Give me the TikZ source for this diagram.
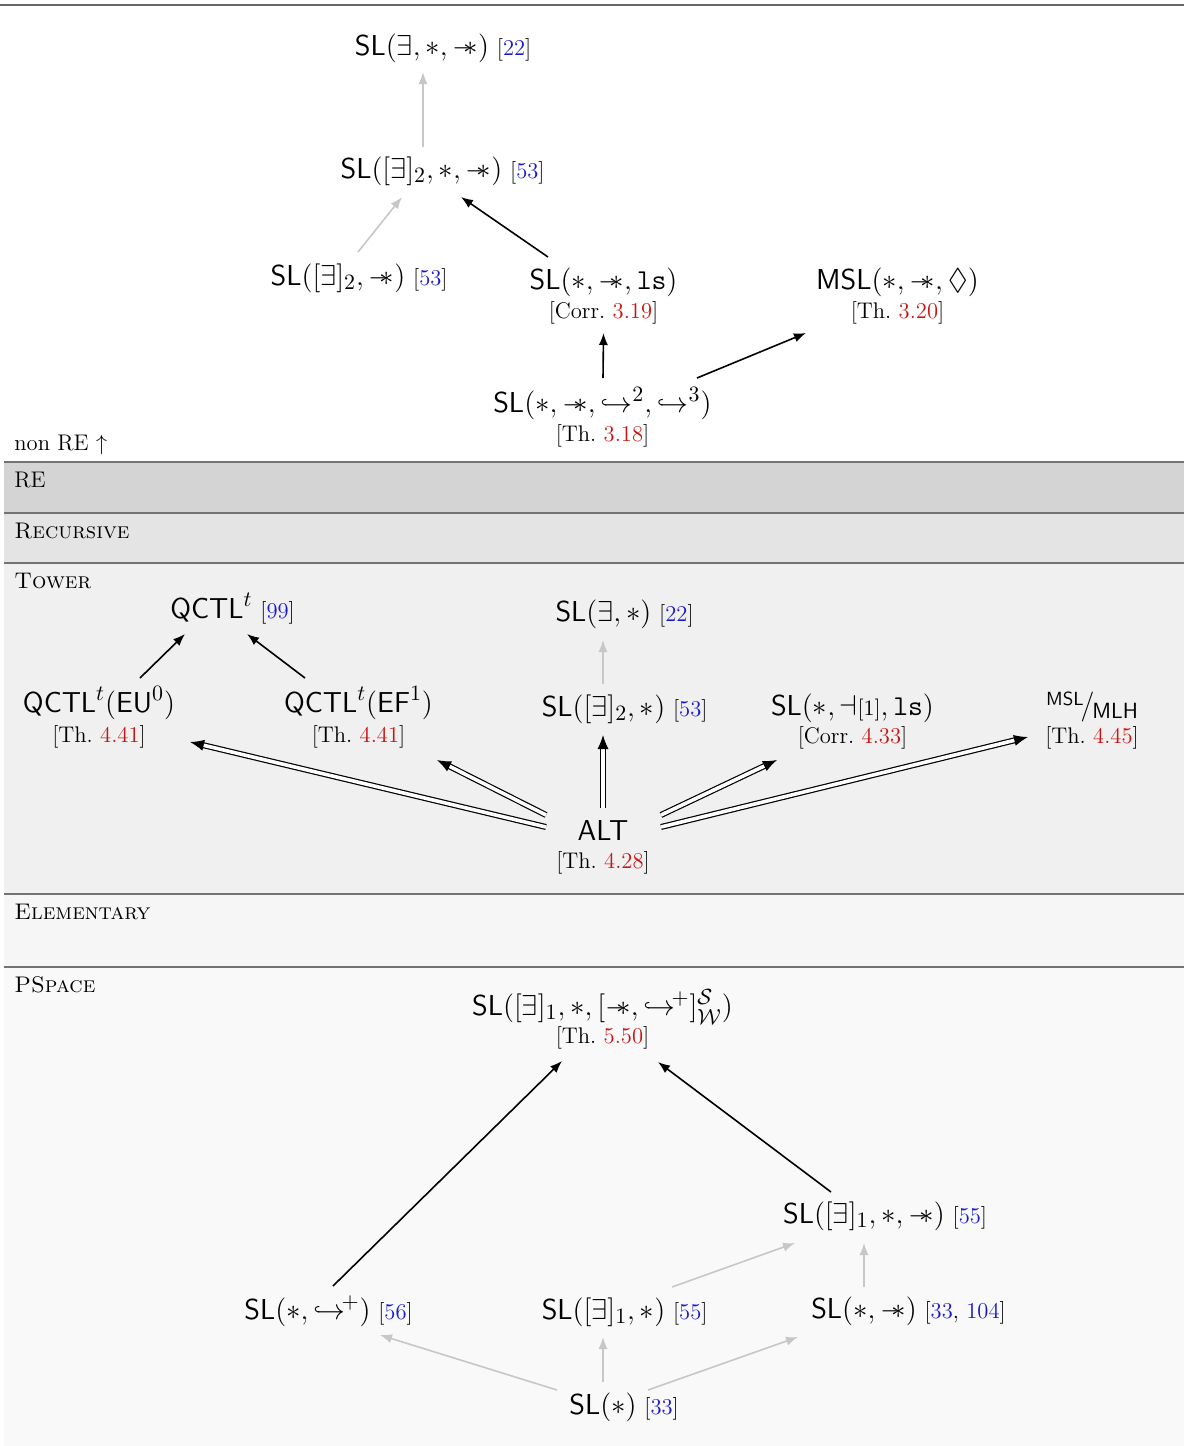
\documentclass[tikz,border=0pt,11pt]{standalone}
\usepackage{amssymb, mathtools, amsmath}
\usepackage{tikz}
\usetikzlibrary{arrows.meta}

\definecolor{citeblue}{RGB}{25,25,205}
\definecolor{refred}{RGB}{200,20,20}
\newcommand{\bibref}[1]{[{\color{citeblue}#1}]}
\newcommand{\thref}[2]{[#1~{\color{refred}#2}]}
\newcommand{\wand}{\mathrel{-\mkern-7mu\ast}}
\newcommand{\septr}{\mathrel{\dashv\mkern-5mu{\scriptstyle[1]}}}
\newcommand{\hookp}{\hookrightarrow^{\!+}}
\newcommand{\smallfont}{\fontsize{11.3}{13.5}\selectfont}

\tikzset{
  lang/.style={font=\fontsize{15}{18}\selectfont, inner sep=0pt, anchor=base},
  cit/.style={font=\smallfont, inner sep=0pt, anchor=base west},
  thm/.style={font=\smallfont, inner sep=0pt, anchor=base},
  band/.style={font=\smallfont, anchor=base west, inner sep=0pt},
  arr/.style={-{Latex[length=6pt,width=4.6pt]}, line width=0.8pt},
  garr/.style={arr, draw=black!22},
  darr/.style={-{Latex[length=7pt,width=5.6pt]}, double, double distance=1.8pt, line width=0.6pt},
}

\begin{document}
\begin{tikzpicture}[x=0.5pt,y=0.5pt,yscale=-1,xscale=1]
\useasboundingbox (0,0) rectangle (1184,1446);

%Bands
\fill [black!17] (4,462) rectangle (1184,513);
\fill [black!10.5] (4,513) rectangle (1184,563);
\fill [black!6] (4,563) rectangle (1184,894);
\fill [black!3.5] (4,894) rectangle (1184,967);
\fill [black!2.5] (4,967) rectangle (1184,1446);
\draw [black!60, line width=1pt] (0,5) -- (1184,5);
\draw [black!55, line width=0.6pt] (4,462) -- (1184,462) (4,513) -- (1184,513) (4,563) -- (1184,563) (4,894) -- (1184,894) (4,967) -- (1184,967);

% Band labels
\draw (14,450) node [band] (nonRE) {non RE $\uparrow$};
\draw (14,487) node [band] (bandRE) {RE};
\draw (14,538) node [band] (bandRec) {\textsc{Recursive}};
\draw (14,588) node [band] (bandTower) {\textsc{Tower}};
\draw (14,919) node [band] (bandElem) {\textsc{Elementary}};
\draw (14,992) node [band] (bandPS) {\textsc{PSpace}};

% Text Node: non RE part
\draw (422,55) node [lang] (slTop) {$\mathsf{SL}(\exists, \ast, \wand)$};
\draw ([shift={(7,0)}]slTop.base east) node [cit] (slTopCite) {\bibref{22}};
\draw (421.5,178) node [lang] (slTwoWand) {$\mathsf{SL}([\exists]_2, \ast, \wand)$};
\draw ([shift={(7,0)}]slTwoWand.base east) node [cit] (slTwoWandCite) {\bibref{53}};
\draw (338,285) node [lang] (slTwoOnlyWand) {$\mathsf{SL}([\exists]_2, \wand)$};
\draw ([shift={(7,0)}]slTwoOnlyWand.base east) node [cit] (slTwoOnlyWandCite) {\bibref{53}};
\draw (603.5,289) node [lang] (slLs) {$\mathsf{SL}(\ast, \wand, \mathtt{ls})$};
\draw ([shift={(0,29)}]slLs.base) node [thm] (slLsRef) {\thref{Corr.}{3.19}};
\draw (897.5,289) node [lang] (mslDia) {$\mathsf{MSL}(\ast, \wand, \Diamond)$};
\draw ([shift={(0,29)}]mslDia.base) node [thm] (mslDiaRef) {\thref{Th.}{3.20}};
\draw (602.5,412) node [lang] (slHook) {$\mathsf{SL}(\ast, \wand, \hookrightarrow^{2}, \hookrightarrow^{3})$};
\draw ([shift={(0,29)}]slHook.base) node [thm] (slHookRef) {\thref{Th.}{3.18}};

% Text Node: tower part
\draw (211.5,618) node [lang] (qctl) {$\mathsf{QCTL}^{t}$};
\draw ([shift={(7,0)}]qctl.base east) node [cit] (qctlCite) {\bibref{99}};
\draw (99,712) node [lang] (qctlEU) {$\mathsf{QCTL}^{t}(\mathsf{EU}^{0})$};
\draw ([shift={(0,30)}]qctlEU.base) node [thm] (qctlEURef) {\thref{Th.}{4.41}};
\draw (358.5,712) node [lang] (qctlEF) {$\mathsf{QCTL}^{t}(\mathsf{EF}^{1})$};
\draw ([shift={(0,30)}]qctlEF.base) node [thm] (qctlEFRef) {\thref{Th.}{4.41}};
\draw (603.5,621) node [lang] (slExStar) {$\mathsf{SL}(\exists, \ast)$};
\draw ([shift={(7,0)}]slExStar.base east) node [cit] (slExStarCite) {\bibref{22}};
\draw (603.5,716) node [lang] (slTwoStar) {$\mathsf{SL}([\exists]_2, \ast)$};
\draw ([shift={(7,0)}]slTwoStar.base east) node [cit] (slTwoStarCite) {\bibref{53}};
\draw (852.5,715) node [lang] (slSep) {$\mathsf{SL}(\ast, \septr, \mathtt{ls})$};
\draw ([shift={(0,28)}]slSep.base) node [thm] (slSepRef) {\thref{Corr.}{4.33}};
\draw (1092,714) node [lang] (mslMlh) {\raisebox{4.5pt}{\fontsize{9.5}{11}\selectfont\sffamily MSL}\kern-1.5pt/\kern-1pt\raisebox{-2pt}{\fontsize{11}{13}\selectfont\sffamily MLH}};
\draw ([shift={(0,29)}]mslMlh.base) node [thm] (mslMlhRef) {\thref{Th.}{4.45}};
\draw (603,840) node [lang] (alt) {$\mathsf{ALT}$};
\draw ([shift={(0,28)}]alt.base) node [thm] (altRef) {\thref{Th.}{4.28}};

% Text Node: pspace part
\draw (602.5,1015) node [lang] (slMain) {$\mathsf{SL}([\exists]_1, \ast, [\wand, \hookp]^{\mathcal{S}}_{\mathcal{W}})$};
\draw ([shift={(0,28)}]slMain.base) node [thm] (slMainRef) {\thref{Th.}{5.50}};
\draw (864,1223) node [lang] (slOneWand) {$\mathsf{SL}([\exists]_1, \ast, \wand)$};
\draw ([shift={(7,0)}]slOneWand.base east) node [cit] (slOneWandCite) {\bibref{55}};
\draw (307.5,1319) node [lang] (slHookPlus) {$\mathsf{SL}(\ast, \hookp)$};
\draw ([shift={(7,0)}]slHookPlus.base east) node [cit] (slHookPlusCite) {\bibref{56}};
\draw (603.5,1319) node [lang] (slOneStar) {$\mathsf{SL}([\exists]_1, \ast)$};
\draw ([shift={(7,0)}]slOneStar.base east) node [cit] (slOneStarCite) {\bibref{55}};
\draw (864,1318) node [lang] (slStarWand) {$\mathsf{SL}(\ast, \wand)$};
\draw ([shift={(7,0)}]slStarWand.base east) node [cit] (slStarWandCite) {[{\color{citeblue}33}, {\color{citeblue}104}]};
\draw (603,1414) node [lang] (slStar) {$\mathsf{SL}(\ast)$};
\draw ([shift={(7,0)}]slStar.base east) node [cit] (slStarCite) {\bibref{33}};

%Straight Lines: non RE part
\draw [garr] ([shift={(1.5,-31)}]slTwoWand.base) -- ([shift={(1,17)}]slTop.base);
\draw [garr] ([shift={(20,-33)}]slTwoOnlyWand.base) -- ([shift={(-19.5,19)}]slTwoWand.base);
\draw [arr] ([shift={(-55.5,-32)}]slLs.base) -- ([shift={(39.5,19)}]slTwoWand.base);
\draw [arr] ([shift={(0.5,-34)}]slHook.base) -- ([shift={(0,15)}]slLsRef.base);
\draw [arr] ([shift={(94.5,-34)}]slHook.base) -- ([shift={(-91.5,15)}]mslDiaRef.base);

%Straight Lines: tower part
\draw [arr] ([shift={(41,-34)}]qctlEU.base) -- ([shift={(-26.5,16)}]qctl.base);
\draw [arr] ([shift={(-53.5,-34)}]qctlEF.base) -- ([shift={(35.5,16)}]qctl.base);
\draw [garr] ([shift={(-0.5,-32)}]slTwoStar.base) -- ([shift={(-0.5,19)}]slExStar.base);
\draw [darr] ([shift={(-57,-13)}]alt.base) -- ([shift={(91,0)}]qctlEURef.base);
\draw [darr] ([shift={(-57,-25)}]alt.base) -- ([shift={(78.5,18)}]qctlEFRef.base);
\draw [darr] ([shift={(0,-32)}]alt.base) -- ([shift={(-0.5,19)}]slTwoStar.base);
\draw [darr] ([shift={(58,-25)}]alt.base) -- ([shift={(-75.5,17)}]slSepRef.base);
\draw [darr] ([shift={(58,-13)}]alt.base) -- ([shift={(-64,-6)}]mslMlhRef.base);

%Straight Lines: pspace part
\draw [arr] ([shift={(25.5,-33)}]slHookPlus.base) -- ([shift={(-40.5,18)}]slMainRef.base);
\draw [arr] ([shift={(-33,-31)}]slOneWand.base) -- ([shift={(55.5,19)}]slMainRef.base);
\draw [garr] ([shift={(68.5,-32)}]slOneStar.base) -- ([shift={(-69,20)}]slOneWand.base);
\draw [garr] ([shift={(0,-31)}]slStarWand.base) -- ([shift={(0,20)}]slOneWand.base);
\draw [garr] ([shift={(-46,-24)}]slStar.base) -- ([shift={(72.5,16)}]slHookPlus.base);
\draw [garr] ([shift={(0,-32)}]slStar.base) -- ([shift={(-0.5,18)}]slOneStar.base);
\draw [garr] ([shift={(45,-24)}]slStar.base) -- ([shift={(-66,19)}]slStarWand.base);

\end{tikzpicture}
\end{document}
